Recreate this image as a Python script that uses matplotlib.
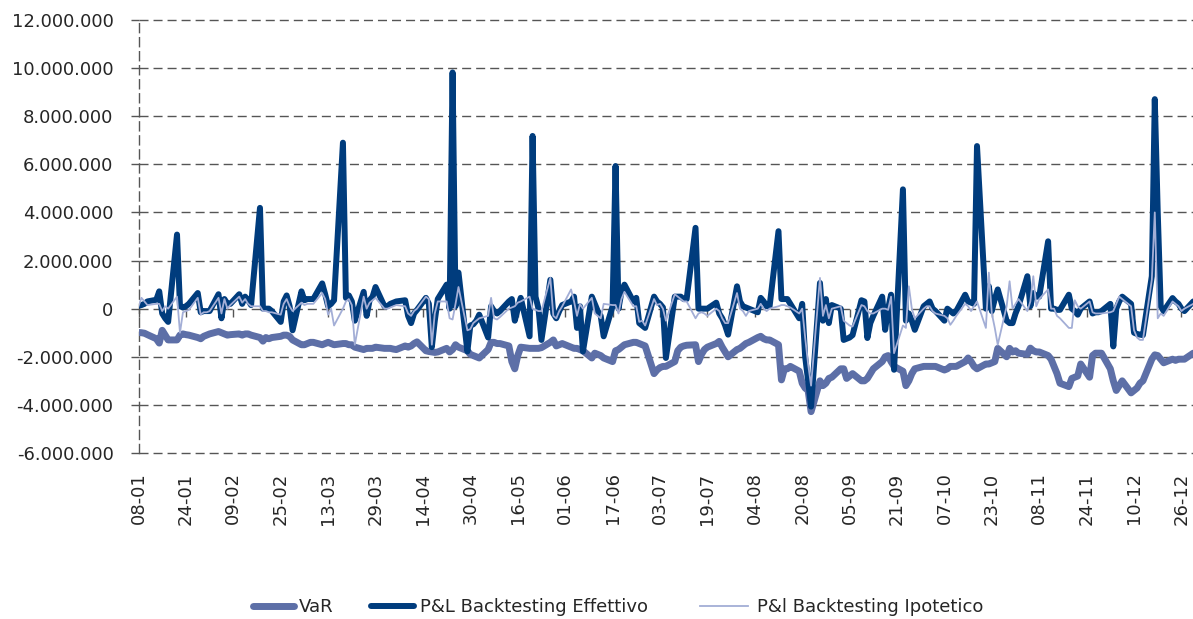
import numpy as np
import pandas as pd
import matplotlib
matplotlib.use("Agg")
import matplotlib.pyplot as plt
import matplotlib.dates as mdates
from matplotlib.ticker import FuncFormatter

# daily series (business days 08-01 .. 31-12), values in millions of euro
start_date = "2013-01-08"
end_date = "2013-12-31"

var_mln = [
    -0.99, -1.0, -1.02, -1.08, -1.25, -1.43, -0.9, -1.1, -1.3, -1.3,
    -1.1, -1.05, -1.08, -1.1, -1.2, -1.25, -1.15, -1.1, -1.05, -0.95,
    -1.0, -1.05, -1.1, -1.08, -1.05, -1.1, -1.05, -1.05, -1.1, -1.2,
    -1.35, -1.2, -1.25, -1.2, -1.15, -1.1, -1.1, -1.15, -1.3, -1.5,
    -1.5, -1.45, -1.4, -1.4, -1.5, -1.45, -1.4, -1.45, -1.5, -1.45,
    -1.45, -1.5, -1.5, -1.6, -1.7, -1.65, -1.65, -1.65, -1.6, -1.65,
    -1.65, -1.65, -1.68, -1.7, -1.55, -1.6, -1.55, -1.45, -1.38, -1.75,
    -1.78, -1.8, -1.82, -1.8, -1.65, -1.8, -1.7, -1.5, -1.6, -1.75,
    -1.9, -1.95, -2.0, -2.05, -1.7, -1.4, -1.4, -1.45, -1.45, -1.55,
    -2.2, -2.5, -1.95, -1.6, -1.65, -1.65, -1.65, -1.65, -1.62, -1.4,
    -1.3, -1.55, -1.5, -1.45, -1.6, -1.65, -1.65, -1.7, -1.75, -2.05,
    -1.85, -1.9, -1.95, -2.05, -2.2, -1.75, -1.7, -1.6, -1.5, -1.4,
    -1.4, -1.45, -1.5, -1.55, -2.7, -2.55, -2.45, -2.4, -2.4, -2.2,
    -1.75, -1.6, -1.55, -1.52, -1.5, -2.2, -1.9, -1.7, -1.6, -1.45,
    -1.36, -1.6, -1.8, -2.0, -1.7, -1.65, -1.55, -1.45, -1.4, -1.2,
    -1.15, -1.25, -1.3, -1.3, -1.5, -2.96, -2.5, -2.5, -2.4, -2.6,
    -3.1, -3.3, -3.4, -4.28, -3.0, -3.2, -3.1, -2.9, -2.85, -2.5,
    -2.5, -2.9, -2.8, -2.7, -3.0, -3.0, -2.9, -2.7, -2.5, -2.2,
    -2.0, -1.95, -2.2, -2.4, -2.6, -3.2, -3.0, -2.7, -2.5, -2.4,
    -2.4, -2.4, -2.4, -2.4, -2.55, -2.5, -2.4, -2.4, -2.4, -2.2,
    -2.05, -2.2, -2.4, -2.5, -2.3, -2.3, -2.25, -2.2, -1.65, -2.0,
    -1.65, -1.8, -1.75, -1.85, -1.9, -1.64, -1.75, -1.8, -1.8, -1.95,
    -2.1, -2.4, -2.7, -3.1, -3.24, -2.9, -2.85, -2.8, -2.3, -2.85,
    -1.95, -1.85, -1.85, -1.85, -2.5, -3.0, -3.4, -3.2, -3.0, -3.5,
    -3.4, -3.3, -3.1, -3.0, -2.1, -1.92, -1.95, -2.1, -2.25, -2.1,
    -2.15, -2.1, -2.1, -2.1, -1.85, -1.9,
]

pl_effettivo_mln = [
    0.12, 0.15, 0.2, 0.3, 0.37, 0.72, -0.2, -0.4, -0.55, 3.08,
    0.1, 0.05, 0.1, 0.2, 0.65, -0.15, -0.1, -0.1, -0.1, 0.6,
    -0.4, 0.4, 0.2, 0.2, 0.6, 0.2, 0.5, 0.35, 0.15, 4.19,
    0.0, 0.0, 0.0, -0.1, -0.55, 0.3, 0.55, 0.1, -0.9, 0.72,
    0.35, 0.4, 0.4, 0.4, 1.05, 0.6, 0.1, 0.2, 0.35, 6.9,
    0.45, 0.55, 0.3, -0.5, 0.7, -0.3, 0.35, 0.5, 0.9, 0.1,
    0.1, 0.2, 0.25, 0.3, 0.35, -0.3, -0.6, -0.2, -0.05, 0.45,
    0.2, -1.6, -0.5, 0.4, 1.0, 0.0, 9.82, 0.1, 1.5, -1.78,
    -0.7, -0.65, -0.5, -0.25, -1.2, 0.1, -0.1, -0.2, -0.1, 0.3,
    0.4, -0.5, 0.0, 0.45, -1.15, 7.18, 0.5, 0.0, -1.3, 1.2,
    -0.2, -0.4, -0.1, 0.15, 0.3, 0.5, -0.8, 0.1, -1.78, 0.5,
    0.2, -0.1, -0.3, -1.15, 0.1, 5.93, 0.0, 0.7, 1.0, 0.3,
    0.45, -0.6, -0.7, -0.8, 0.5, 0.3, 0.2, 0.05, -2.05, 0.5,
    0.5, 0.5, 0.4, 0.4, 3.36, 0.0, 0.0, 0.0, 0.0, 0.25,
    -0.2, -0.4, -0.7, -1.08, 0.93, 0.3, 0.1, 0.05, 0.0, -0.15,
    0.45, 0.3, 0.1, 0.1, 3.22, 0.4, 0.4, 0.4, 0.2, -0.4,
    0.2, -2.0, -3.0, -4.07, 1.07, -0.5, 0.4, -0.6, 0.15, 0.0,
    -1.3, -1.25, -1.2, -1.1, 0.35, 0.3, -1.22, -0.6, -0.3, 0.5,
    -0.88, 0.0, 0.58, -2.54, 4.96, -0.5, -0.2, -0.5, -0.88, 0.1,
    0.2, 0.3, 0.0, -0.1, -0.5, 0.0, -0.1, -0.2, -0.1, 0.58,
    0.3, 0.25, 0.2, 6.76, 0.0, 0.93, -0.1, 0.4, 0.8, -0.5,
    -0.6, -0.6, -0.2, 0.1, 1.35, 0.1, 0.65, 0.5, 0.5, 2.8,
    0.0, 0.0, -0.05, -0.05, 0.58, 0.0, -0.1, -0.25, 0.0, 0.3,
    -0.2, -0.15, -0.15, -0.1, 0.2, -1.57, 0.0, 0.3, 0.5, 0.2,
    -1.0, -1.05, -1.08, -1.1, 1.35, 8.71, 4.0, 0.1, -0.1, 0.44,
    0.3, 0.2, 0.0, -0.1, 0.3, 0.1,
]

pl_ipotetico_mln = [
    0.1, 0.45, 0.3, 0.15, 0.2, 0.2, -0.1, 0.1, 0.0, 0.5,
    -1.0, -0.15, -0.1, -0.05, 0.45, -0.25, -0.15, -0.15, -0.1, 0.45,
    -0.2, 0.4, 0.0, 0.15, 0.5, 0.25, 0.4, 0.2, 0.1, 0.1,
    -0.1, -0.1, -0.15, -0.15, -0.25, 0.2, 0.4, 0.1, -0.1, 0.25,
    0.15, 0.2, 0.2, 0.2, 0.65, 0.4, -0.25, 0.0, -0.7, 0.0,
    0.3, 0.4, 0.15, -1.5, 0.5, 0.0, 0.25, 0.35, 0.45, 0.0,
    0.0, 0.05, 0.1, 0.15, 0.1, -0.2, -0.3, -0.1, 0.0, 0.5,
    0.4, -1.5, -0.2, 0.3, 0.3, -0.4, -0.45, 0.2, 0.9, -0.9,
    -0.85, -0.6, -0.5, -0.4, -0.3, 0.45, -0.4, -0.45, -0.35, 0.0,
    0.05, 0.1, 0.25, 0.3, 0.5, 0.0, -0.05, -0.1, -0.1, 1.28,
    -0.3, -0.4, -0.1, 0.1, 0.8, 0.3, -0.3, 0.2, 0.0, 0.45,
    -0.2, -0.3, -0.4, 0.2, 0.15, 0.15, -0.2, 0.4, 0.7, 0.1,
    0.1, -0.55, -0.5, -0.7, 0.4, 0.15, 0.2, 0.0, -0.5, 0.6,
    0.5, 0.4, 0.3, 0.3, -0.4, -0.2, -0.15, -0.2, -0.3, 0.0,
    -0.1, -0.4, -0.6, -0.6, 0.65, 0.0, -0.1, -0.3, -0.1, 0.0,
    0.2, 0.0, -0.1, 0.0, 0.1, 0.15, 0.15, 0.1, 0.05, -0.2,
    0.0, -1.2, -2.3, -3.2, 1.28, -0.3, 0.15, -0.4, 0.0, 0.1,
    -0.5, -0.6, -0.7, -0.74, 0.15, 0.1, -0.1, -0.2, -0.2, 0.0,
    0.0, -0.05, 0.5, -1.85, -0.7, -0.8, 0.93, 0.0, -0.4, 0.0,
    0.1, 0.1, -0.1, -0.2, -0.3, -0.4, -0.67, -0.5, -0.3, 0.2,
    0.1, -0.1, 0.1, 0.3, -0.8, 1.5, -0.2, -0.8, -1.5, 0.1,
    1.14, 0.0, 0.2, 0.4, -0.1, 0.3, 1.35, 0.1, 0.4, 0.8,
    0.0, 0.0, -0.3, -0.4, -0.8, -0.8, 0.35, 0.1, 0.0, 0.3,
    -0.15, -0.2, -0.2, -0.2, -0.15, -0.1, 0.2, 0.5, 0.4, 0.1,
    -0.9, -1.2, -1.3, -1.3, 1.2, 4.0, -0.4, -0.2, -0.3, 0.3,
    0.2, 0.1, -0.1, 0.0, 0.2, 0.0,
]

series_labels = ["VaR", "P&L Backtesting Effettivo", "P&l Backtesting Ipotetico"]
y_ticks = [-6e6, -4e6, -2e6, 0, 2e6, 4e6, 6e6, 8e6, 10e6, 12e6]
tick_step_days = 16
n_date_ticks = 23

dates = pd.bdate_range(start_date, end_date)
assert len(dates) == len(var_mln) == len(pl_effettivo_mln) == len(pl_ipotetico_mln)
x = mdates.date2num(dates.to_pydatetime())
var = np.array(var_mln) * 1e6
eff = np.array(pl_effettivo_mln) * 1e6
ipo = np.array(pl_ipotetico_mln) * 1e6

col_var = "#5D6FA7"
col_eff = "#003C7D"
col_ipo = "#A3AED6"
grid_col = "#555555"
text_col = "#262626"
dash = (0, (6.5, 3.6))

plt.rcParams["font.family"] = "DejaVu Sans"
fig = plt.figure(figsize=(11.93, 6.19), dpi=100)
ax = fig.add_axes([138.5 / 1193, 166 / 619, 1054.5 / 1193, 433 / 619])

h_var, = ax.plot(x, var, color=col_var, lw=5.0, solid_joinstyle="round",
                 solid_capstyle="round", label=series_labels[0], zorder=3)
h_eff, = ax.plot(x, eff, color=col_eff, lw=4.3, solid_joinstyle="round",
                 solid_capstyle="round", label=series_labels[1], zorder=4)
h_ipo, = ax.plot(x, ipo, color=col_ipo, lw=1.3, label=series_labels[2], zorder=5)

x0 = x[0]
ax.set_xlim(x0, x0 + 355.9)
ax.set_ylim(-6e6, 12e6)

# horizontal dashed grid
for yv in y_ticks:
    ax.axhline(yv, color=grid_col, lw=1.0, linestyle=dash, zorder=1, clip_on=False)

for s in ["top", "right", "bottom"]:
    ax.spines[s].set_visible(False)
ax.spines["left"].set_linestyle(dash)
ax.spines["left"].set_color(grid_col)
ax.spines["left"].set_linewidth(1.0)

ax.set_yticks(y_ticks)
ax.yaxis.set_major_formatter(FuncFormatter(lambda v, p: f"{int(round(v)):,}".replace(",", ".")))
ax.tick_params(axis="y", direction="out", length=6, width=1, color=grid_col,
               pad=12, labelsize=13, labelcolor=text_col)

tick_dates = pd.date_range(start_date, periods=n_date_ticks, freq=f"{tick_step_days}D")
tick_x = mdates.date2num(tick_dates.to_pydatetime())
ax.set_xticks(tick_x)
ax.xaxis.set_major_formatter(mdates.DateFormatter("%d-%m"))
ax.tick_params(axis="x", length=0, pad=14, labelsize=13, labelcolor=text_col,
               labelrotation=90)

# category ticks sitting on the zero line
secax = ax.secondary_xaxis(6 / 18)
secax.set_xticks(tick_x)
secax.xaxis.set_ticks_position("bottom")
secax.tick_params(axis="x", direction="out", length=6, width=1, color=grid_col,
                  labelbottom=False, labeltop=False)
for s in secax.spines.values():
    s.set_visible(False)

leg_y = 0.019
leg_kw = dict(loc="center left", frameon=False, borderpad=0, borderaxespad=0,
              fontsize=13, labelcolor=text_col)
fig.legend(handles=[h_var], labels=[series_labels[0]], bbox_to_anchor=(253 / 1193, leg_y),
           handlelength=2.25, handletextpad=0.3, **leg_kw)
fig.legend(handles=[h_eff], labels=[series_labels[1]], bbox_to_anchor=(371 / 1193, leg_y),
           handlelength=2.4, handletextpad=0.3, **leg_kw)
fig.legend(handles=[h_ipo], labels=[series_labels[2]], bbox_to_anchor=(700 / 1193, leg_y),
           handlelength=2.65, handletextpad=0.5, **leg_kw)

fig.savefig("out.png", dpi=100)
